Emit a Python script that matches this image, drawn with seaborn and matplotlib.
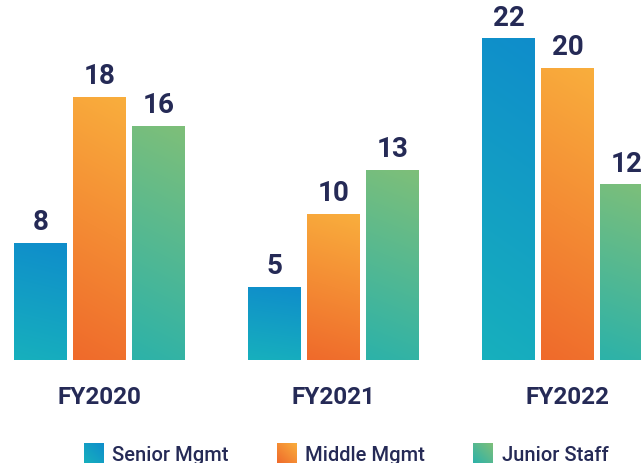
import numpy as np
import pandas as pd
import matplotlib.pyplot as plt
import seaborn as sns
from matplotlib.colors import LinearSegmentedColormap

# Data
years = ["FY2020", "FY2021", "FY2022"]
levels = ["Senior Mgmt", "Middle Mgmt", "Junior Staff"]
senior = [8, 5, 22]
middle = [18, 10, 20]
junior = [16, 13, 12]

top_colors = ["#0f8dcb", "#f9ae3d", "#7ebf79"]
bottom_colors = ["#17b0bd", "#ef6a2b", "#2cb2a9"]
navy = "#252a56"

df = pd.DataFrame({
    "year": years * 3,
    "level": np.repeat(levels, len(years)),
    "count": senior + middle + junior,
})

sns.set_style("white")
plt.rcParams["font.family"] = ["Roboto", "DejaVu Sans"]

W, H = 641, 463
fig = plt.figure(figsize=(W / 100, H / 100), dpi=100)
ax = fig.add_axes([0, 103 / H, 1, 360 / H])

sns.barplot(data=df, x="year", y="count", hue="level", hue_order=levels,
            width=0.756, gap=0.11, ax=ax, legend=False)


def gradient(n=128, tilt=0.1):
    yy, xx = np.mgrid[0:1:n * 1j, 0:1:n * 1j]
    return (1 - tilt) * yy + tilt * xx


# replace flat bars with gradient images
for i, cont in enumerate(ax.containers):
    cmap = LinearSegmentedColormap.from_list("g%d" % i, [bottom_colors[i], top_colors[i]])
    for bar in cont:
        x0, w, h = bar.get_x(), bar.get_width(), bar.get_height()
        ax.imshow(gradient(), extent=[x0, x0 + w, 0, h], origin="lower",
                  cmap=cmap, aspect="auto", zorder=2, interpolation="bilinear")
        bar.set_facecolor("none")
        bar.set_edgecolor("none")
    ax.bar_label(cont, padding=5, fontsize=20, fontweight="bold", color=navy)

ax.set_xlim(-0.425, 2.314)
ax.set_ylim(0, 360 / 14.6)
for s in ax.spines.values():
    s.set_visible(False)
ax.set_yticks([])
ax.set_xlabel("")
ax.set_ylabel("")
ax.tick_params(axis="x", length=0, pad=18.5, labelsize=17.5, labelcolor=navy)
for t in ax.get_xticklabels():
    t.set_fontweight("bold")

# legend with gradient squares
sq_x = [84, 277, 473]
txt_x = [112, 305, 502]
for i, lab in enumerate(levels):
    cmap = LinearSegmentedColormap.from_list("l%d" % i, [bottom_colors[i], top_colors[i]])
    lax = fig.add_axes([sq_x[i] / W, 0, 20 / W, 20 / H])
    lax.imshow(gradient(tilt=0.5), origin="lower", cmap=cmap, aspect="auto",
               extent=[0, 1, 0, 1], interpolation="bilinear")
    lax.set_axis_off()
    fig.text(txt_x[i] / W, (H - 460.7) / H, lab, fontsize=14.5, fontweight="medium",
             color=navy, ha="left", va="baseline")

fig.savefig("out.png", dpi=100)
